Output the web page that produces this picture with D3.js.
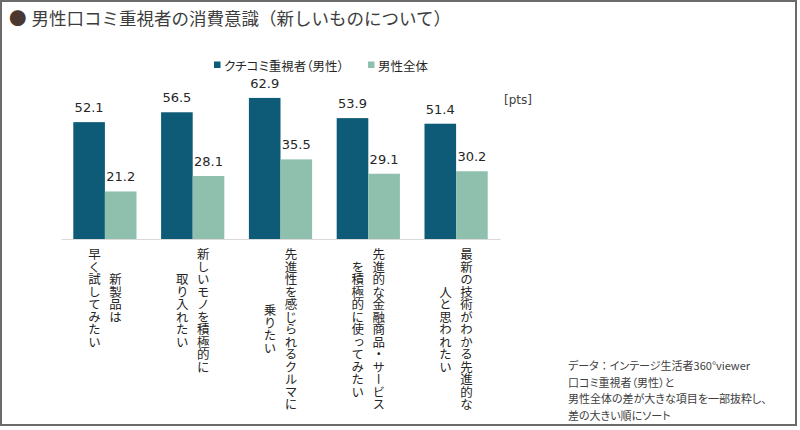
<!DOCTYPE html>
<html>
<head>
<meta charset="utf-8">
<script src="https://cdn.jsdelivr.net/npm/d3@7/dist/d3.min.js"></script>
<style>
  html, body { margin: 0; padding: 0; background: #fff; }
  svg { display: block; }
  .jp { font-family: "Noto Sans CJK JP", "Noto Sans", sans-serif; }
  .num { font-family: "DejaVu Sans", Verdana, sans-serif; }
  .palt { font-feature-settings: "palt" 1; }
  .nopalt { font-feature-settings: "palt" 0; }
</style>
</head>
<body>
<svg id="chart" width="800" height="430"></svg>
<script>
// ---- data ----
const categories = [
  "新製品は早く試してみたい",
  "新しいモノを積極的に取り入れたい",
  "先進性を感じられるクルマに乗りたい",
  "先進的な金融商品・サービスを積極的に使ってみたい",
  "最新の技術がわかる先進的な人と思われたい"
];
// label lines (vertical writing, first line is rightmost)
const categoryLines = [
  ["新製品は", "早く試してみたい"],
  ["新しいモノを積極的に", "取り入れたい"],
  ["先進性を感じられるクルマに", "乗りたい"],
  ["先進的な金融商品・サービス", "を積極的に使ってみたい"],
  ["最新の技術がわかる先進的な", "人と思われたい"]
];
const seriesNames = ["クチコミ重視者（男性）", "男性全体"];
const kuchikomiValues = [52.1, 56.5, 62.9, 53.9, 51.4];
const allMenValues = [21.2, 28.1, 35.5, 29.1, 30.2];
const titleText = "男性口コミ重視者の消費意識（新しいものについて）";
const unitText = "[pts]";
const noteLines = [
  ["データ", "：", "インテージ生活者360°viewer"],
  ["口コミ重視者（男性）と"],
  ["男性全体の差が大きな項目を一部抜粋し、"],
  ["差の大きい順にソート"]
];

const colors = ["#0d5b77", "#8fbfad"];
const seriesValues = [kuchikomiValues, allMenValues];

const svg = d3.select("#chart");

// frame
svg.append("rect")
  .attr("x", 1).attr("y", 1).attr("width", 795).attr("height", 424)
  .attr("fill", "#fff").attr("stroke", "#6b6b6b").attr("stroke-width", 2);

// title
const title = svg.append("text").attr("class", "jp")
  .attr("x", 9).attr("y", 17)
  .attr("dominant-baseline", "central")
  .attr("font-size", 17.5);
title.append("tspan").attr("fill", "#4a3830").text("●");
title.append("tspan").attr("fill", "#3d3d3d").attr("dx", 5).text(titleText);

// scales
const x0 = d3.scaleBand().domain(categories).range([61, 500])
  .paddingInner(0.28).paddingOuter(0.14);
const x1 = d3.scaleBand().domain(seriesNames).range([0, x0.bandwidth()]).padding(0);
const y = d3.scaleLinear().domain([0, 70]).range([239, 82]);

// bars
const groups = svg.append("g").selectAll("g")
  .data(categories).join("g")
  .attr("transform", d => `translate(${x0(d)},0)`);

groups.selectAll("rect")
  .data((d, i) => seriesNames.map((s, j) => ({ s, v: seriesValues[j][i], j })))
  .join("rect")
  .attr("x", d => x1(d.s))
  .attr("y", d => y(d.v))
  .attr("width", x1.bandwidth())
  .attr("height", d => y(0) - y(d.v))
  .attr("fill", d => colors[d.j]);

groups.selectAll("text.val")
  .data((d, i) => seriesNames.map((s, j) => ({ s, v: seriesValues[j][i], j })))
  .join("text")
  .attr("class", "val num")
  .attr("x", d => x1(d.s) + x1.bandwidth() / 2)
  .attr("y", d => y(d.v) - 10)
  .attr("text-anchor", "middle")
  .attr("font-size", 13)
  .attr("fill", "#262626")
  .text(d => d.v.toFixed(1));

// baseline axis
const xAxis = d3.axisBottom(x0).tickSize(0).tickFormat("");
const axG = svg.append("g").attr("transform", `translate(0,${y(0)})`).call(xAxis);
axG.select(".domain").attr("stroke", "#d9d9d9").attr("stroke-width", 1);

// category labels (vertical)
const fsCat = 12.5;
categories.forEach((c, i) => {
  const lines = categoryLines[i];
  const maxLen = d3.max(lines, l => l.length);
  const cx = x0(c) + x0.bandwidth() / 2;
  const cy = 248 + maxLen * fsCat / 2;
  lines.forEach((l, k) => {
    const lx = cx + (lines.length - 1) * 10.5 - k * 21;
    svg.append("text").attr("class", "jp")
      .attr("x", lx).attr("y", cy)
      .attr("text-anchor", "middle")
      .attr("font-size", fsCat)
      .attr("fill", "#262626")
      .style("writing-mode", "vertical-rl")
      .text(l);
  });
});

// unit
svg.append("text").attr("class", "num")
  .attr("x", 504).attr("y", 104)
  .attr("font-size", 12).attr("fill", "#404040")
  .text(unitText);

// legend
const legendX = [214, 368];
seriesNames.forEach((s, j) => {
  svg.append("rect")
    .attr("x", legendX[j]).attr("y", 61.5)
    .attr("width", 6.5).attr("height", 6.5)
    .attr("fill", colors[j]);
  svg.append("text").attr("class", "jp palt")
    .attr("x", legendX[j] + 10).attr("y", 65)
    .attr("dominant-baseline", "central")
    .attr("font-size", 12.5).attr("fill", "#262626")
    .text(s);
});

// note
noteLines.forEach((parts, k) => {
  const t = svg.append("text").attr("class", "jp palt")
    .attr("x", 568).attr("y", 370 + k * 16.6)
    .attr("font-size", 11).attr("fill", "#404040");
  parts.forEach(p => {
    t.append("tspan").attr("class", p === "：" ? "nopalt" : null).text(p);
  });
});
</script>
</body>
</html>
